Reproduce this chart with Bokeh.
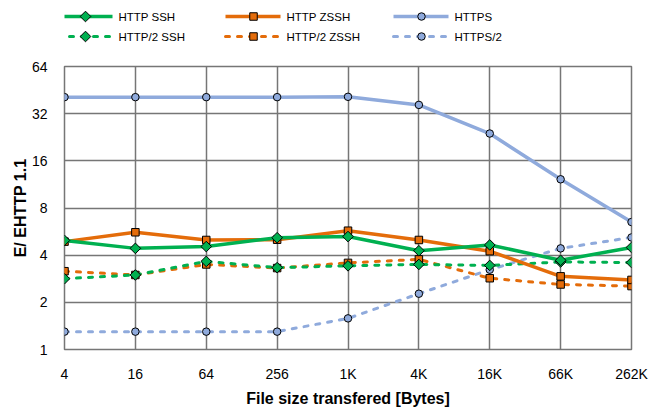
import math
from bokeh.plotting import figure
from bokeh.layouts import column
from bokeh.models import FixedTicker, Range1d
from bokeh.embed import file_html
from bokeh.resources import INLINE

# File sizes (category axis)
sizes = ["4", "16", "64", "256", "1K", "4K", "16K", "66K", "262K"]

# Ratio E / E_HTTP1.1 per protocol variant
http_ssh = [4.97, 4.42, 4.54, 5.17, 5.26, 4.27, 4.65, 3.71, 4.48]
http_zssh = [4.88, 5.60, 5.00, 5.02, 5.73, 5.00, 4.24, 2.93, 2.78]
https = [40.8, 40.8, 40.8, 40.8, 41.0, 36.4, 23.9, 12.2, 6.51]
http2_ssh = [2.83, 2.99, 3.65, 3.33, 3.42, 3.49, 3.44, 3.62, 3.59]
http2_zssh = [3.16, 2.99, 3.49, 3.31, 3.57, 3.76, 2.85, 2.60, 2.54]
https2 = [1.30, 1.30, 1.30, 1.30, 1.58, 2.27, 3.23, 4.42, 5.19]

y_ticks = [1, 2, 4, 8, 16, 32, 64]

GREEN = "#00B050"
ORANGE = "#E46C0A"
BLUE = "#8FAADC"
GRID = "#767676"
FONT = "Liberation Sans"
DASH = "4 8"

# marker styles: (bokeh marker, size, rotation)
DIAMOND = ("square", 7.5, math.pi / 4)
SQUARE = ("square", 7.5, 0.0)
CIRCLE = ("circle", 7.5, 0.0)

# (label, values, colour, dash, marker style, legend column, legend row)
series = [
    ("HTTP SSH", http_ssh, GREEN, "solid", DIAMOND, 0, 0),
    ("HTTP ZSSH", http_zssh, ORANGE, "solid", SQUARE, 1, 0),
    ("HTTPS", https, BLUE, "solid", CIRCLE, 2, 0),
    ("HTTP/2 SSH", http2_ssh, GREEN, DASH, DIAMOND, 0, 1),
    ("HTTP/2 ZSSH", http2_zssh, ORANGE, DASH, SQUARE, 1, 1),
    ("HTTPS/2", https2, BLUE, DASH, CIRCLE, 2, 1),
]

xs = list(range(len(sizes)))
LEG_H = 46
LEFT, RIGHT = 64, 29


def draw(fig, x, y, color, dash):
    solid = dash == "solid"
    fig.line(x, y, line_color=color, line_width=3.5 if solid else 3,
             line_dash=dash, line_cap="butt" if solid else "round")


def mark(fig, x, y, color, style):
    marker, size, angle = style
    fig.scatter(x, y, marker=marker, size=size, angle=angle, fill_color=color,
                line_color="black", line_width=1)


# ---- main chart ----
p = figure(width=660, height=409 - LEG_H, y_axis_type="log",
           x_range=(0, len(sizes) - 1), y_range=(1, 64),
           output_backend="svg", toolbar_location=None,
           min_border_left=LEFT, min_border_right=RIGHT,
           min_border_top=66 - LEG_H, min_border_bottom=50)
p.background_fill_color = "white"
p.border_fill_color = "white"
p.outline_line_color = GRID
p.outline_line_width = 1.5

p.xaxis.ticker = FixedTicker(ticks=xs)
p.xaxis.major_label_overrides = {i: s for i, s in enumerate(sizes)}
p.yaxis.ticker = FixedTicker(ticks=y_ticks)
p.yaxis.major_label_overrides = {t: str(t) for t in y_ticks}
for ax in (p.xaxis[0], p.yaxis[0]):
    ax.axis_line_color = None
    ax.major_tick_line_color = None
    ax.minor_tick_line_color = None
    ax.major_label_text_font = FONT
    ax.major_label_text_font_size = "14px"
    ax.major_label_text_color = "#000000"
    ax.axis_label_text_font = FONT
    ax.axis_label_text_font_size = "16px"
    ax.axis_label_text_font_style = "bold"
    ax.axis_label_text_color = "#000000"
p.xaxis.major_label_standoff = 10
p.yaxis.major_label_standoff = 11
p.xaxis.axis_label = "File size transfered [Bytes]"
p.yaxis.axis_label = "E/ EHTTP 1.1"
p.xaxis.axis_label_standoff = 5
p.yaxis.axis_label_standoff = 0

p.xgrid.ticker = FixedTicker(ticks=xs)
p.ygrid.ticker = FixedTicker(ticks=y_ticks)
for g in (p.xgrid[0], p.ygrid[0]):
    g.grid_line_color = GRID
    g.grid_line_width = 1.5
    g.minor_grid_line_color = None

# dashed series first so the solid ones sit on top
for label, vals, color, dash, style, _, _ in series[::-1]:
    draw(p, xs, vals, color, dash)
    mark(p, xs, vals, color, style)

# ---- legend strip; its frame lines up with the chart frame, so the
# x range is given in page pixels over that frame ----
leg = figure(width=660, height=LEG_H, x_range=Range1d(LEFT, 660 - RIGHT),
             y_range=Range1d(LEG_H, 0), output_backend="svg",
             toolbar_location=None, x_axis_location=None, y_axis_location=None,
             min_border=0, min_border_left=LEFT, min_border_right=RIGHT)
leg.grid.visible = False
leg.outline_line_color = None
leg.background_fill_color = "white"
leg.border_fill_color = "white"

COL_X, COL_STEP, ROW_Y, ROW_STEP = 57, 168, 16, 20
for label, vals, color, dash, style, c, r in series:
    x0 = COL_X + c * COL_STEP
    y0 = ROW_Y + r * ROW_STEP
    draw(leg, [x0, x0 + 55], [y0, y0], color, dash)
    mark(leg, [x0 + 28], [y0], color, style)
    leg.text([x0 + 61], [y0], text=[label], text_font_size="11.5px",
             text_baseline="middle", text_align="left", text_color="#000000",
             text_font={"value": FONT})

layout = column(leg, p, spacing=0)
open("out.html", "w").write(file_html(layout, INLINE))
